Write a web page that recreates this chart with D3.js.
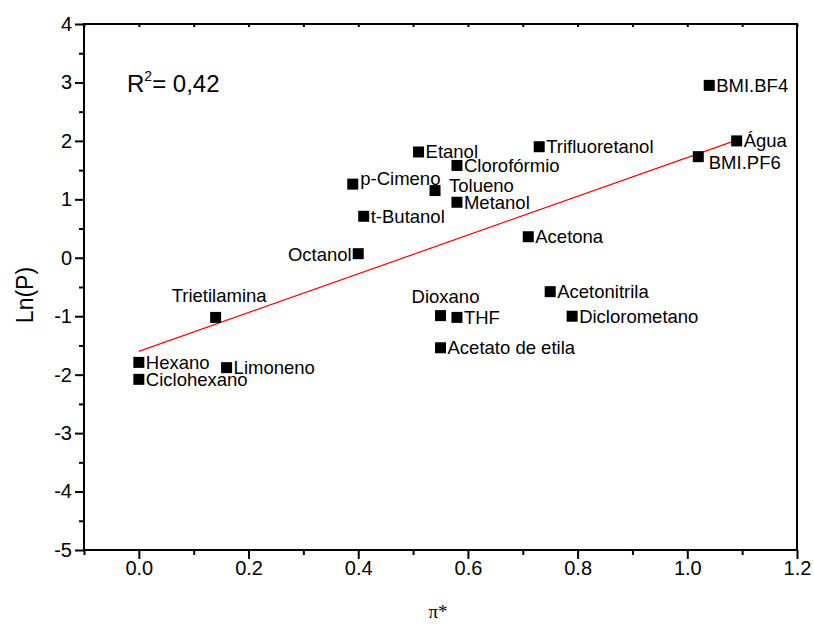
<!DOCTYPE html>
<html>
<head>
<meta charset="utf-8">
<script src="https://cdn.jsdelivr.net/npm/d3@7"></script>
<style>
  body { margin: 0; background: #fff; }
  svg { display: block; }
  text { font-family: "Liberation Sans", Arial, sans-serif; fill: #000; }
</style>
</head>
<body>
<svg id="chart" width="814" height="624"></svg>
<script>
// Solvents with their π* polarity parameter and Ln(P)
const solvents = ["BMI.BF4", "Água", "BMI.PF6", "Trifluoretanol", "Etanol", "Clorofórmio",
  "p-Cimeno", "Tolueno", "Metanol", "t-Butanol", "Acetona", "Octanol", "Trietilamina",
  "Acetonitrila", "Dioxano", "THF", "Diclorometano", "Acetato de etila", "Hexano",
  "Limoneno", "Ciclohexano"];
const piStar = [1.04, 1.09, 1.02, 0.73, 0.51, 0.58, 0.39, 0.54, 0.58, 0.41, 0.71, 0.40, 0.14,
  0.75, 0.55, 0.58, 0.79, 0.55, 0.00, 0.16, 0.00];
const lnP = [2.95, 2.00, 1.73, 1.90, 1.81, 1.58, 1.26, 1.15, 0.95, 0.71, 0.36, 0.07, -1.02,
  -0.58, -0.99, -1.02, -1.00, -1.54, -1.79, -1.88, -2.08];

const xTickLabels = ["0.0", "0.2", "0.4", "0.6", "0.8", "1.0", "1.2"];
const yTickLabels = ["-5", "-4", "-3", "-2", "-1", "0", "1", "2", "3", "4"];
const xTitle = "π*";
const yTitle = "Ln(P)";
const r2Value = "0,42";

// Label placement around each marker (default: to the right, vertically centred)
const labelPlacement = {
  "BMI.PF6": { dx: 10.5, dy: 12.5 },
  "p-Cimeno": { dx: 7.5, dy: 1 },
  "Tolueno": { dx: 14, dy: 1.5 },
  "Octanol": { dx: -6.5, dy: 7, anchor: "end" },
  "Trietilamina": { dx: 3.5, dy: -15.5, anchor: "middle" },
  "Dioxano": { dx: 5, dy: -12.5, anchor: "middle" }
};
const defaultPlacement = { dx: 7, dy: 6.5, anchor: "start" };

const points = solvents.map((name, i) => ({ name, x: piStar[i], y: lnP[i] }));

const svg = d3.select("#chart");
const plotLeft = 84, plotRight = 797, plotTop = 24, plotBottom = 550;

const x = d3.scaleLinear().domain([-0.1, 1.2]).range([plotLeft, plotRight]);
const y = d3.scaleLinear().domain([-5, 4]).range([plotBottom, plotTop]);

const xMajor = xTickLabels.map(Number);
const xMinor = d3.range(-1, 13).map(k => k / 10).filter(v => !xMajor.some(m => Math.abs(m - v) < 1e-9));
const yMajor = yTickLabels.map(Number);
const yMinor = d3.range(-5, 4).map(v => v + 0.5);

// Bottom axis: major and minor ticks pointing outward
const gxMinor = svg.append("g").attr("transform", `translate(0,${plotBottom})`)
  .call(d3.axisBottom(x).tickValues(xMinor).tickSize(5).tickFormat(""));
const gx = svg.append("g").attr("transform", `translate(0,${plotBottom})`)
  .call(d3.axisBottom(x).tickValues(xMajor).tickSize(9).tickPadding(2)
    .tickFormat((d, i) => xTickLabels[i]));

// Left axis
const gyMinor = svg.append("g").attr("transform", `translate(${plotLeft},0)`)
  .call(d3.axisLeft(y).tickValues(yMinor).tickSize(5).tickFormat(""));
const gy = svg.append("g").attr("transform", `translate(${plotLeft},0)`)
  .call(d3.axisLeft(y).tickValues(yMajor).tickSize(9).tickPadding(3)
    .tickFormat((d, i) => yTickLabels[i]));

// Top axis: short inward ticks every 0.1
const gTop = svg.append("g").attr("transform", `translate(0,${plotTop})`)
  .call(d3.axisBottom(x).tickValues(d3.range(-1, 13).map(k => k / 10)).tickSize(3).tickFormat(""));

[gxMinor, gx, gyMinor, gy, gTop].forEach(g => {
  g.select(".domain").remove();
  g.selectAll(".tick line").attr("stroke", "#000").attr("stroke-width", 2);
  g.selectAll(".tick text").attr("font-size", 20)
    .attr("font-family", "'Liberation Sans', Arial, sans-serif").attr("fill", "#000");
});

// Plot frame
svg.append("rect")
  .attr("x", plotLeft).attr("y", plotTop)
  .attr("width", plotRight - plotLeft).attr("height", plotBottom - plotTop)
  .attr("fill", "none").attr("stroke", "#000").attr("stroke-width", 2);

// Least-squares fit line across the data range
const mx = d3.mean(piStar), my = d3.mean(lnP);
const sxy = d3.sum(piStar, (v, i) => (v - mx) * (lnP[i] - my));
const sxx = d3.sum(piStar, v => (v - mx) * (v - mx));
const slope = sxy / sxx, intercept = my - slope * mx;
const [xMin, xMax] = d3.extent(piStar);
svg.append("line")
  .attr("x1", x(xMin)).attr("y1", y(intercept + slope * xMin))
  .attr("x2", x(xMax)).attr("y2", y(intercept + slope * xMax))
  .attr("stroke", "#ff0000").attr("stroke-width", 1.2);

// Markers
const size = 11;
svg.append("g").selectAll("rect").data(points).join("rect")
  .attr("x", d => x(d.x) - size / 2).attr("y", d => y(d.y) - size / 2)
  .attr("width", size).attr("height", size).attr("fill", "#000");

// Point labels
svg.append("g").selectAll("text").data(points).join("text")
  .each(function (d) {
    const p = Object.assign({}, defaultPlacement, labelPlacement[d.name] || {});
    d3.select(this)
      .attr("x", x(d.x) + p.dx).attr("y", y(d.y) + p.dy)
      .attr("text-anchor", p.anchor || "start");
  })
  .attr("font-size", 18.5)
  .text(d => d.name);

// R² annotation
const r2 = svg.append("text").attr("x", 127).attr("y", 92).attr("font-size", 24);
r2.append("tspan").text("R");
r2.append("tspan").attr("font-size", 14).attr("dy", -11).text("2");
r2.append("tspan").attr("dy", 11).text("= " + r2Value);

// Axis titles
svg.append("text")
  .attr("transform", `translate(33,295) rotate(-90)`)
  .attr("text-anchor", "middle").attr("font-size", 23)
  .text(yTitle);

svg.append("text")
  .attr("x", 438).attr("y", 618)
  .attr("text-anchor", "middle").attr("font-size", 19)
  .style("font-family", "'Liberation Serif', 'Times New Roman', serif")
  .text(xTitle);
</script>
</body>
</html>
